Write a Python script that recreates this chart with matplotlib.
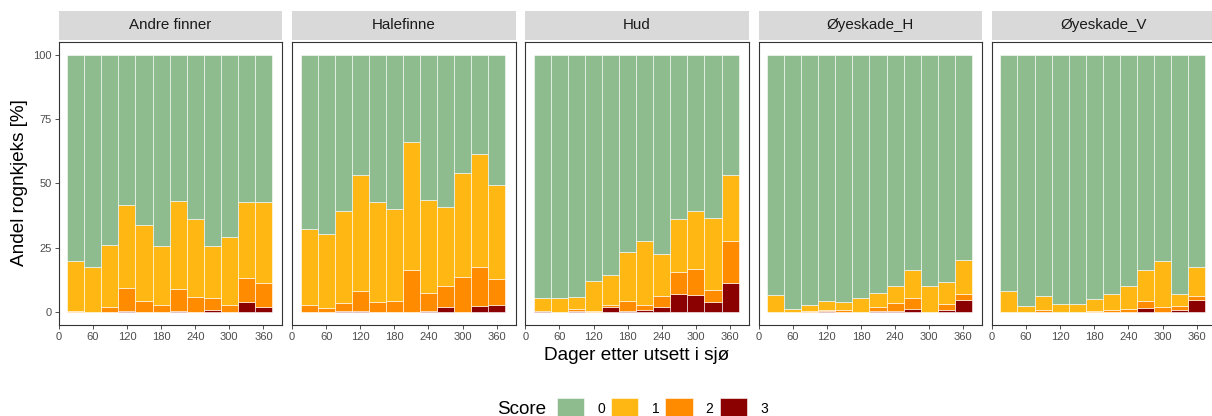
#!/usr/bin/env python3

# stacked score bars per facet, ggplot-like layout built by hand
import numpy as np
import matplotlib as mpl
mpl.use('Agg')
import matplotlib.pyplot as plt

plt.rcParams['font.family'] = ['Liberation Sans', 'DejaVu Sans']

# days after sea transfer
days = [30, 60, 90, 120, 150, 180, 210, 240, 270, 300, 330, 360]

facets = ["Andre finner", "Halefinne", "Hud", "Øyeskade_H", "Øyeskade_V"]

# percent per score (score 0 is the rest up to 100)
andre_s1 = [19.4, 17.2, 24.3, 32.1, 29.3, 23.0, 34.1, 30.0, 20.3, 26.3, 29.8, 31.4]
andre_s2 = [0.6, 0.2, 1.8, 8.8, 4.5, 2.8, 8.7, 6.0, 4.7, 2.7, 9.1, 9.3]
andre_s3 = [0, 0, 0, 0.6, 0, 0, 0.4, 0, 0.8, 0, 4.0, 2.1]

hale_s1 = [29.5, 29.0, 35.4, 45.0, 38.8, 35.5, 49.7, 36.3, 30.5, 40.4, 43.9, 36.4]
hale_s2 = [2.6, 1.5, 3.2, 7.8, 4.0, 4.5, 16.5, 6.7, 8.3, 13.5, 15.1, 10.4]
hale_s3 = [0, 0, 0.5, 0.3, 0, 0, 0, 0.6, 1.9, 0, 2.3, 2.6]

hud_s1 = [5.1, 5.2, 4.3, 11.7, 11.5, 18.9, 24.9, 16.1, 20.7, 22.4, 28.0, 25.5]
hud_s2 = [0, 0.2, 0.9, 0.4, 1.0, 4.0, 1.9, 4.3, 8.5, 10.1, 4.6, 16.2]
hud_s3 = [0.3, 0, 0.5, 0, 1.8, 0.4, 0.8, 2.1, 6.9, 6.7, 4.0, 11.4]

oyeh_s1 = [6.7, 1.2, 2.1, 3.4, 3.1, 5.5, 5.7, 6.7, 10.8, 10.2, 8.6, 12.9]
oyeh_s2 = [0, 0, 0.5, 0.5, 0.8, 0, 1.3, 2.9, 4.3, 0, 2.2, 2.4]
oyeh_s3 = [0, 0, 0, 0.5, 0, 0, 0.6, 0.6, 1.2, 0, 0.9, 4.8]

oyev_s1 = [8.2, 2.3, 5.4, 3.3, 3.3, 4.5, 6.2, 8.8, 12.3, 17.8, 4.8, 11.5]
oyev_s2 = [0, 0, 0.9, 0, 0, 0.6, 0.9, 1.4, 2.5, 1.9, 1.4, 1.3]
oyev_s3 = [0, 0, 0, 0, 0, 0, 0, 0, 1.7, 0, 0.9, 4.9]

facet_data = [
        (andre_s1, andre_s2, andre_s3)
        ,(hale_s1, hale_s2, hale_s3)
        ,(hud_s1, hud_s2, hud_s3)
        ,(oyeh_s1, oyeh_s2, oyeh_s3)
        ,(oyev_s1, oyev_s2, oyev_s3)
        ]

score_labels = ["0", "1", "2", "3"]
score_colors = ["#8FBC8F", "#FFB713", "#FF8C00", "#8B0000"]

W, H = 1212, 416
fig = plt.figure(figsize=(W / 100, H / 100), dpi=100)

left0 = 58.7
step = 233.3
pw = 223.5
ptop = 41.7
pbot = 325.0

tick_col = "#4D4D4D"
x = np.array(days, dtype=float)

for i, name in enumerate(facets):
    s1, s2, s3 = [np.array(v, dtype=float) for v in facet_data[i]]
    s0 = 100.0 - s1 - s2 - s3

    x0 = left0 + i * step
    ax = fig.add_axes([x0 / W, 1 - pbot / H, pw / W, (pbot - ptop) / H])

    bottom = np.zeros(len(days))
    for vals, lab, col in zip([s3, s2, s1, s0], score_labels[::-1], score_colors[::-1]):
        # skip empty segments so they do not leave a white edge line
        m = vals > 0
        ax.bar(x[m], vals[m], width=30, bottom=bottom[m], color=col
                ,edgecolor="white", linewidth=0.4, label=lab)
        bottom = bottom + vals

    ax.set_xlim(0, 393)
    ax.set_ylim(-5, 105)
    ax.set_xticks([0, 60, 120, 180, 240, 300, 360])
    ax.set_yticks([0, 25, 50, 75, 100])
    ax.tick_params(length=3, width=0.6, color="#333333"
            ,labelsize=8, labelcolor=tick_col, pad=2)
    if i > 0:
        ax.tick_params(axis='y', left=False, labelleft=False)

    for sp in ax.spines.values():
        sp.set_color("#333333")
        sp.set_linewidth(0.8)

    # facet strip
    sax = fig.add_axes([x0 / W, 1 - 40.0 / H, pw / W, 29.3 / H])
    sax.set_facecolor("#D9D9D9")
    sax.set_xticks([])
    sax.set_yticks([])
    for sp in sax.spines.values():
        sp.set_visible(False)
    sax.text(0.5, 0.5, name, ha="center", va="center"
            ,fontsize=10.9, color="#1A1A1A", transform=sax.transAxes)

    if i == 0:
        first_ax = ax

fig.text(20 / W, 1 - 183 / H, "Andel rognkjeks [%]", rotation=90
        ,ha="center", va="center", fontsize=13.7)
fig.text(637 / W, 1 - 355 / H, "Dager etter utsett i sjø"
        ,ha="center", va="center", fontsize=13.7)

# legend at bottom
handles, labels = first_ax.get_legend_handles_labels()
order = [3, 2, 1, 0]
fig.legend([handles[k] for k in order], [labels[k] for k in order]
        ,loc="center left", bbox_to_anchor=(557 / W, 1 - 408.5 / H)
        ,ncol=4, frameon=False, fontsize=10
        ,handlelength=1.95, handleheight=1.95, handletextpad=0.95
        ,columnspacing=0.45, borderpad=0, borderaxespad=0)
fig.text(546 / W, 1 - 409 / H, "Score", ha="right", va="center", fontsize=13.6)

fig.savefig("out.png", dpi=100)
